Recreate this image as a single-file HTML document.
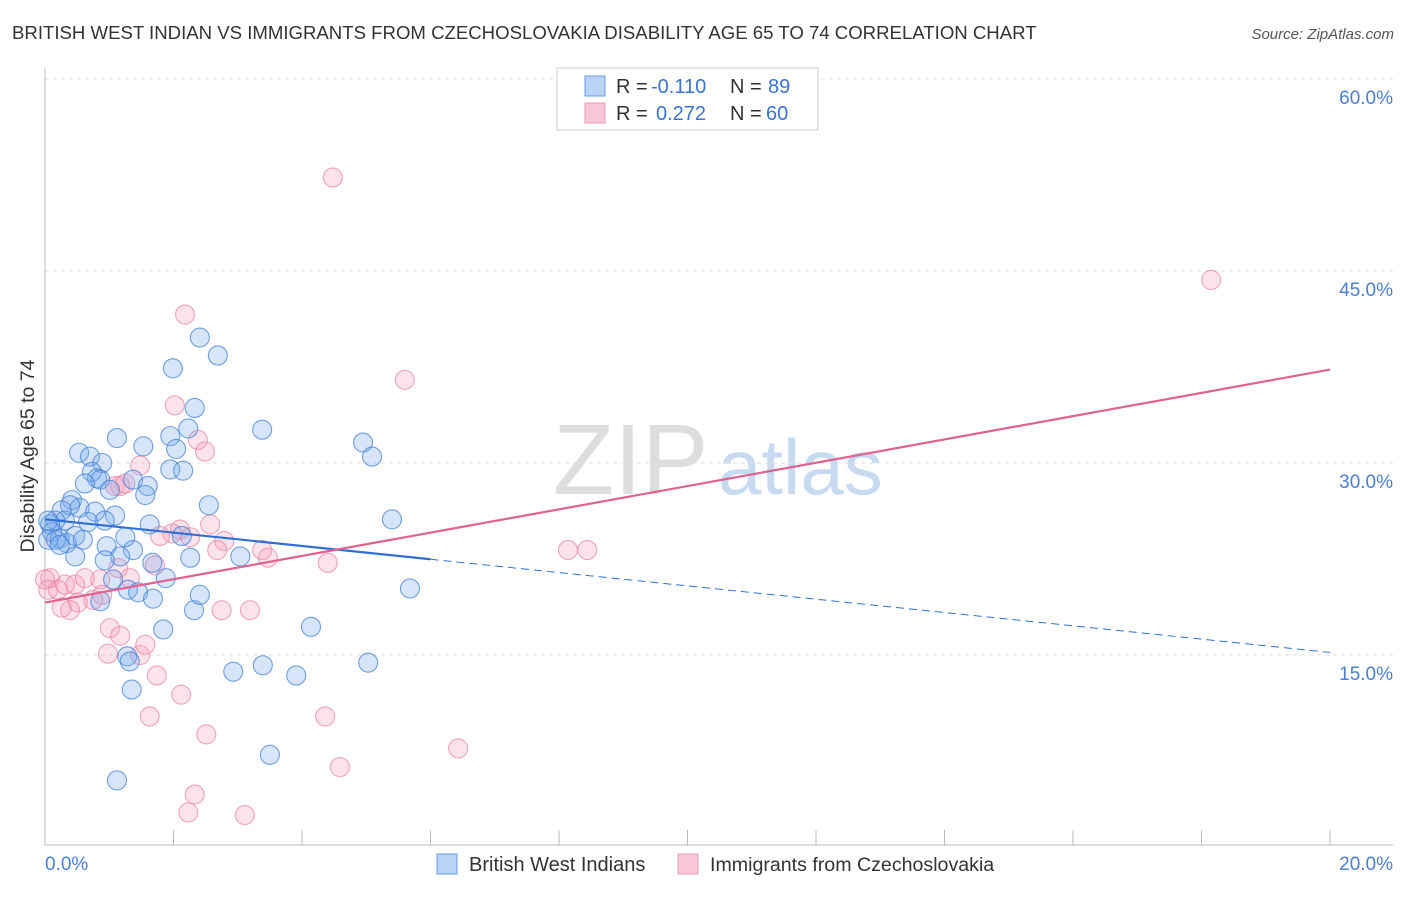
<!DOCTYPE html>
<html><head><meta charset="utf-8"><style>
body{margin:0;background:#fff;font-family:"Liberation Sans",sans-serif}
svg text{font-family:"Liberation Sans",sans-serif}
</style></head><body>
<svg width="1406" height="892" id="chart">
<text x="12" y="39" font-size="18.6" fill="#333">BRITISH WEST INDIAN VS IMMIGRANTS FROM CZECHOSLOVAKIA DISABILITY AGE 65 TO 74 CORRELATION CHART</text>
<text x="1394" y="39" font-size="15" fill="#555" font-style="italic" text-anchor="end">Source: ZipAtlas.com</text>
<text x="553" y="494" font-size="100" fill="#ddd" font-family="Liberation Serif">ZIP</text>
<text x="718" y="494" font-size="78" fill="#c8daf0">atlas</text>
<g id="grid"></g>
<g id="pts"></g>
<g id="lines"></g>
<text transform="translate(34,456) rotate(-90)" font-size="19.5" fill="#333" text-anchor="middle">Disability Age 65 to 74</text>
<text x="45" y="870" font-size="19" fill="#4a7fd4">0.0%</text>
<text x="1393" y="870" font-size="19" fill="#4a7fd4" text-anchor="end">20.0%</text>
<g>
<rect x="557" y="68" width="261" height="62" fill="#fff" stroke="#ccc"/>
<rect x="585" y="76" width="20" height="20" fill="#b8d3f5" stroke="#6a9be0"/>
<rect x="585" y="103" width="20" height="20" fill="#f9c8d8" stroke="#eb98b6"/>
<text x="616" y="93" font-size="20" fill="#333">R =</text>
<text x="651" y="93" font-size="20" fill="#3b74d0">-0.110</text>
<text x="730" y="93" font-size="20" fill="#333">N =</text>
<text x="768" y="93" font-size="20" fill="#3b74d0">89</text>
<text x="616" y="120" font-size="20" fill="#333">R =</text>
<text x="656" y="120" font-size="20" fill="#3b74d0">0.272</text>
<text x="730" y="120" font-size="20" fill="#333">N =</text>
<text x="766" y="120" font-size="20" fill="#3b74d0">60</text>
</g>
<g>
<rect x="437" y="854" width="20" height="20" fill="#b8d3f5" stroke="#6a9be0"/>
<text x="469" y="871" font-size="20" fill="#333">British West Indians</text>
<rect x="678" y="854" width="20" height="20" fill="#f9c8d8" stroke="#eb98b6"/>
<text x="710" y="871" font-size="19.6" fill="#333">Immigrants from Czechoslovakia</text>
</g>
</svg>
<script>
const yTicks=[15,30,45,60];
const yTickLabels=["15.0%","30.0%","45.0%","60.0%"];
const blueX=[2.41,2.69,1.99,2.33,3.38,1.12,1.53,1.95,2.23,2.04,4.95,5.09,0.53,0.70,0.89,1.95,2.15,0.73,0.81,0.86,0.62,1.37,1.60,1.56,0.42,0.26,0.54,0.78,2.55,1.09,0.93,0.67,0.31,0.16,0.08,0.11,0.23,0.34,0.47,0.59,1.63,1.25,2.13,5.40,0.96,1.37,1.17,0.93,1.67,3.04,2.26,1.88,1.29,1.45,0.86,1.68,5.68,2.32,1.84,4.14,1.28,1.32,2.93,3.39,3.91,5.03,1.35,3.50,1.12,0.47,0.05,0.05,0.17,2.41,1.01,0.39,0.23,1.06];
const blueY=[39.8,38.4,37.4,34.3,32.6,31.95,31.3,32.1,32.7,31.1,31.6,30.5,30.8,30.5,30.0,29.5,29.4,29.3,28.8,28.7,28.4,28.7,28.2,27.5,27.1,26.3,26.5,26.2,26.7,25.9,25.5,25.4,25.5,25.5,25.2,24.6,24.1,23.75,24.3,24.0,25.2,24.2,24.3,25.6,23.5,23.2,22.7,22.4,22.2,22.7,22.6,21.0,20.1,19.9,19.2,19.4,20.2,18.5,17.0,17.2,14.9,14.5,13.7,14.2,13.4,14.4,12.3,7.2,5.2,22.7,25.5,24.0,24.0,19.7,27.9,26.7,23.6,20.9];
const pinkX=[4.48,18.15,2.18,5.60,2.02,2.38,2.49,1.48,1.09,1.17,1.25,2.10,1.98,2.57,1.79,2.79,2.26,2.68,3.38,3.47,4.40,8.14,8.44,0.08,0.05,0.20,0.31,0.47,0.62,0.86,0.89,0.75,0.51,0.39,0.26,1.32,1.71,1.01,1.17,0.98,1.48,1.56,1.74,2.12,2.75,3.19,1.63,4.36,2.51,6.43,4.59,2.33,2.23,3.11,1.14,0.0];
const pinkY=[52.3,44.3,41.6,36.5,34.5,31.8,30.9,29.8,28.2,28.2,28.4,24.8,24.5,25.2,24.3,23.9,24.2,23.2,23.2,22.6,22.2,23.2,23.2,21.0,20.1,20.1,20.5,20.5,21.0,20.9,19.7,19.3,19.1,18.5,18.7,21.0,22.0,17.1,16.5,15.1,15.0,15.8,13.4,11.9,18.5,18.5,10.2,10.2,8.8,7.7,6.25,4.1,2.7,2.5,21.8,20.9];
const blueTrend=[25.6,15.2];
const pinkTrend=[19.1,37.3];
const NS='http://www.w3.org/2000/svg';
const sx=v=>45+v*64.25, sy=v=>463-(v-30)*12.8;
function mk(t,a,p){const e=document.createElementNS(NS,t);for(const k in a)e.setAttribute(k,a[k]);p.appendChild(e);return e;}
const grid=document.getElementById('grid');
yTicks.forEach((t,i)=>{
 const l=mk('line',{x1:45,x2:1393,y1:sy(t),y2:sy(t),stroke:'#ddd','stroke-dasharray':'4,4'},grid);
 
 
 const tx=mk('text',{x:1393,y:sy(t)+25,'font-size':19,fill:'#4a7fd4','text-anchor':'end'},grid);
 tx.textContent=yTickLabels[i];
 
 
});
const ax=mk('line',{x1:45,x2:45,y1:68,y2:845,stroke:'#bbb'},grid);


const bx=mk('line',{x1:45,x2:1393,y1:845,y2:845,stroke:'#bbb'},grid);


for(let i=0;i<=20;i+=2){const t=mk('line',{x1:sx(i),x2:sx(i),y1:830,y2:845,stroke:'#bbb'},grid);
 
 }
const pts=document.getElementById('pts');
function dots(X,Y,f,s,n){X.forEach((x,i)=>{const c=mk('circle',{cx:sx(x),cy:sy(Y[i]),r:9.5,fill:f,stroke:s,'stroke-width':1.1},pts);
 
 });}
dots(pinkX,pinkY,'rgba(245,160,190,0.3)','rgba(232,130,165,0.7)','pink-point');
dots(blueX,blueY,'rgba(120,170,235,0.3)','rgba(70,130,215,0.75)','blue-point');
const lines=document.getElementById('lines');
const bt=v=>blueTrend[0]+(blueTrend[1]-blueTrend[0])*v/20, pt=v=>pinkTrend[0]+(pinkTrend[1]-pinkTrend[0])*v/20;
let l1=mk('line',{x1:sx(0),y1:sy(bt(0)),x2:sx(6),y2:sy(bt(6)),stroke:'#2f6fd6','stroke-width':2.2},lines);


let l2=mk('line',{x1:sx(6),y1:sy(bt(6)),x2:sx(20),y2:sy(bt(20)),stroke:'#2f6fd6','stroke-width':1,'stroke-dasharray':'8,5'},lines);


let l3=mk('line',{x1:sx(0),y1:sy(pt(0)),x2:sx(20),y2:sy(pt(20)),stroke:'#e0628f','stroke-width':2.2},lines);


</script>
</body></html>
